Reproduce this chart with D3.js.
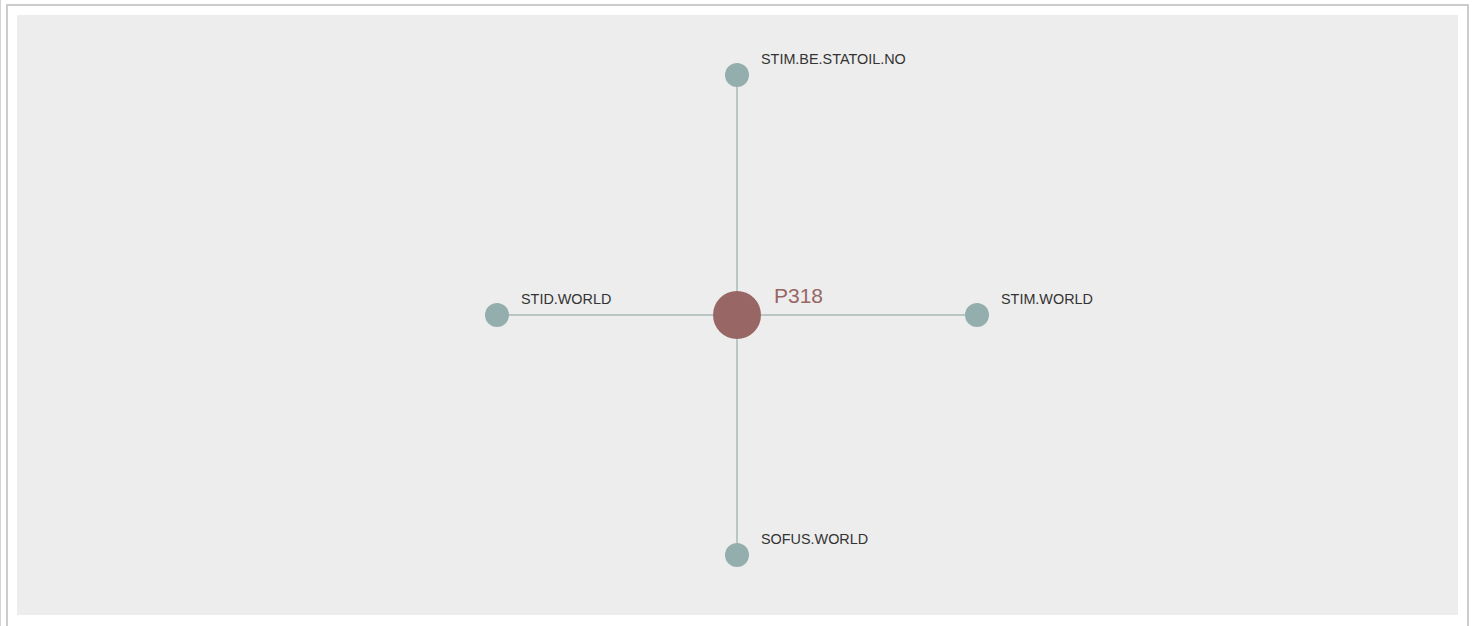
<!DOCTYPE html>
<html>
<head>
<meta charset="utf-8">
<script src="https://cdn.jsdelivr.net/npm/d3@7"></script>
<style>
  body { margin: 0; background: #fff; }
  svg { display: block; font-family: "Liberation Sans", Arial, Helvetica, sans-serif; }
</style>
</head>
<body>
<svg id="chart" width="1472" height="626"></svg>
<script>
// hub and the nodes linked to it (clockwise from top)
var hub = "P318";
var leaves = ["STIM.BE.STATOIL.NO", "STIM.WORLD", "SOFUS.WORLD", "STID.WORLD"];
var links = leaves.map(function(l) { return {source: hub, target: l}; });

var W = 1472, H = 626;
var panel = {x: 17, y: 15, w: 1441, h: 600};
var cx = 737, cy = 315;

var svg = d3.select("#chart");

// page frame lines
svg.append("line")
  .attr("x1", 0.5).attr("x2", 0.5).attr("y1", 0).attr("y2", H)
  .attr("stroke", "#d4d4d4").attr("stroke-width", 1);
svg.append("rect")
  .attr("x", 7).attr("y", 5)
  .attr("width", 1461).attr("height", 700)
  .attr("fill", "none")
  .attr("stroke", "#cccccc")
  .attr("stroke-width", 2);

// panel background
svg.append("rect")
  .attr("x", panel.x).attr("y", panel.y)
  .attr("width", panel.w).attr("height", panel.h)
  .attr("fill", "#ededed");

// radial layout: angle by index, distance by scale
var angle = d3.scaleLinear().domain([0, leaves.length]).range([0, 2 * Math.PI]);
var radius = d3.scaleLinear().domain([0, 1]).range([0, 240]);

var pos = {};
pos[hub] = [cx, cy];
leaves.forEach(function(name, i) {
  var p = d3.pointRadial(angle(i), radius(1));
  pos[name] = [cx + p[0], cy + p[1]];
});

var g = svg.append("g");

g.selectAll(".link")
  .data(links)
  .enter()
  .append("line")
    .attr("class", "link")
    .attr("x1", function(d) { return pos[d.source][0]; })
    .attr("y1", function(d) { return pos[d.source][1]; })
    .attr("x2", function(d) { return pos[d.target][0]; })
    .attr("y2", function(d) { return pos[d.target][1]; })
    .attr("stroke", "#b8c6c4")
    .attr("stroke-width", 2);

// leaf nodes
var leaf = g.selectAll(".leaf")
  .data(leaves)
  .enter()
  .append("g")
    .attr("class", "leaf")
    .attr("transform", function(d) { return "translate(" + pos[d][0] + "," + pos[d][1] + ")"; });

leaf.append("circle")
  .attr("r", 12)
  .attr("fill", "#94aeae");

leaf.append("text")
  .attr("x", 24)
  .attr("y", -11.5)
  .attr("font-size", "14.4px")
  .attr("fill", "#333")
  .text(function(d) { return d; });

// hub node
var center = g.append("g")
  .attr("transform", "translate(" + pos[hub][0] + "," + pos[hub][1] + ")");
center.append("circle")
  .attr("r", 24)
  .attr("fill", "#986664");
center.append("text")
  .attr("x", 37)
  .attr("y", -12)
  .attr("font-size", "21px")
  .attr("fill", "#986664")
  .text(hub);
</script>
</body>
</html>
